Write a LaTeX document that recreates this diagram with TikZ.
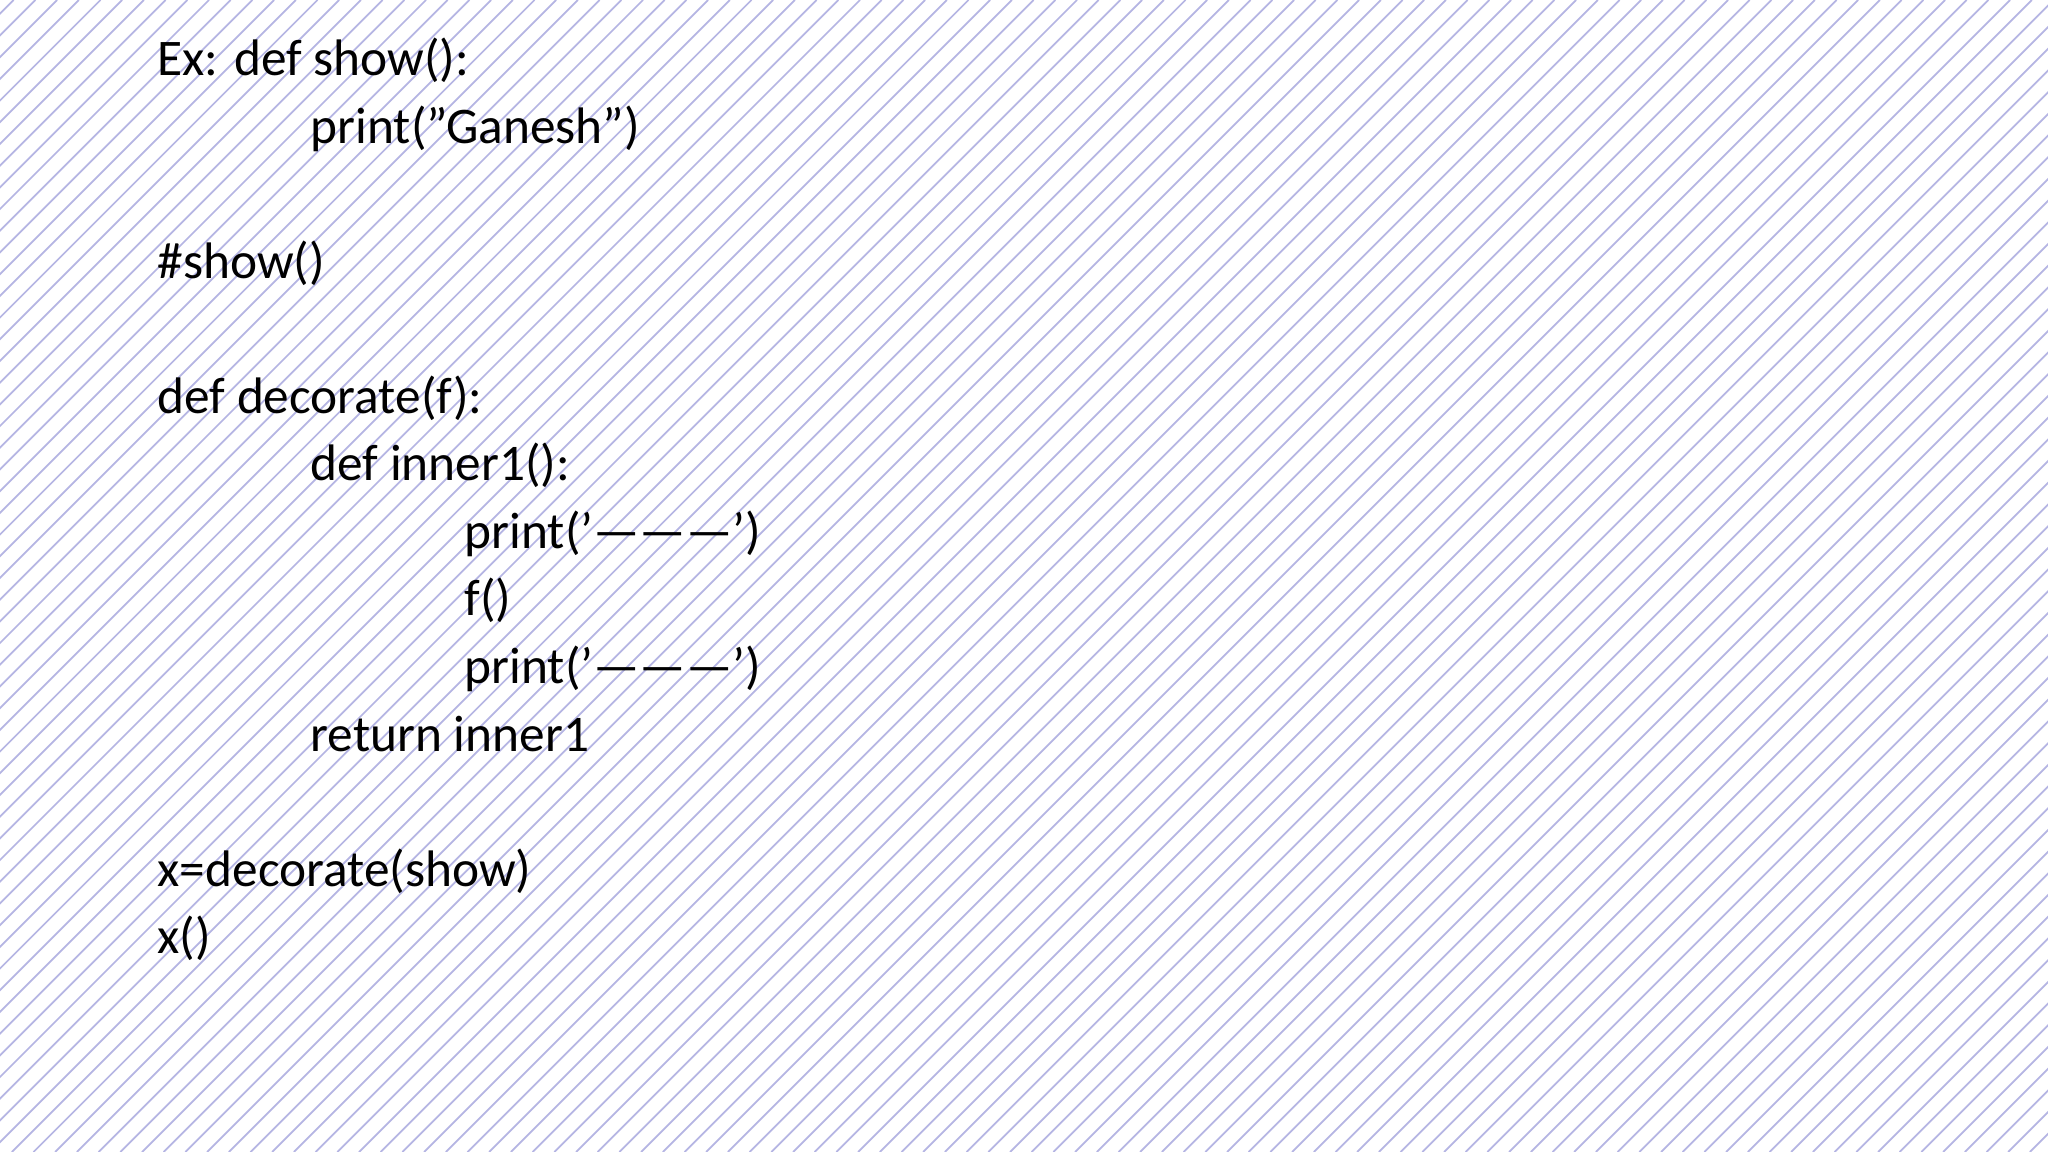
\documentclass[tikz,border=0pt]{standalone}
\usepackage{fontspec}
\setmainfont{Carlito}
\begin{document}
\begin{tikzpicture}[x=0.01cm,y=-0.01cm,
  code/.style={anchor=base west,inner sep=0pt,font=\fontsize{14.6pt}{17pt}\selectfont},
  hatch/.style={draw=gray!55!blue!40,line width=0.5pt}]
\useasboundingbox (0,0) rectangle (2048,1152);
\fill[white] (0,0) rectangle (2048,1152);
\begin{scope}
\clip (0,0) rectangle (2048,1152);
\foreach \k in {-1160,-1138.3,...,2060}{
  \draw[hatch] (\k,1152) -- (\k+1152,0);
}
\end{scope}
\def\L{157}\def\M{310}\def\N{464}
\node[code] (l0) at (\L,76) {Ex: def show():};
\node[code] (l1) at (\M,143.5) {print("Ganesh")};
\node[code] (l3) at (\L,278.5) {\#show()};
\node[code] (l5) at (\L,413.5) {def decorate(f):};
\node[code] (l6) at (\M,481) {def inner1():};
\node[code] (l7) at (\N,548.5) {print('---------')};
\node[code] (l8) at (\N,616) {f()};
\node[code] (l9) at (\N,683.5) {print('---------')};
\node[code] (l10) at (\M,751) {return inner1};
\node[code] (l12) at (\L,886) {x=decorate(show)};
\node[code] (l13) at (\L,953.5) {x()};
\end{tikzpicture}
\end{document}
